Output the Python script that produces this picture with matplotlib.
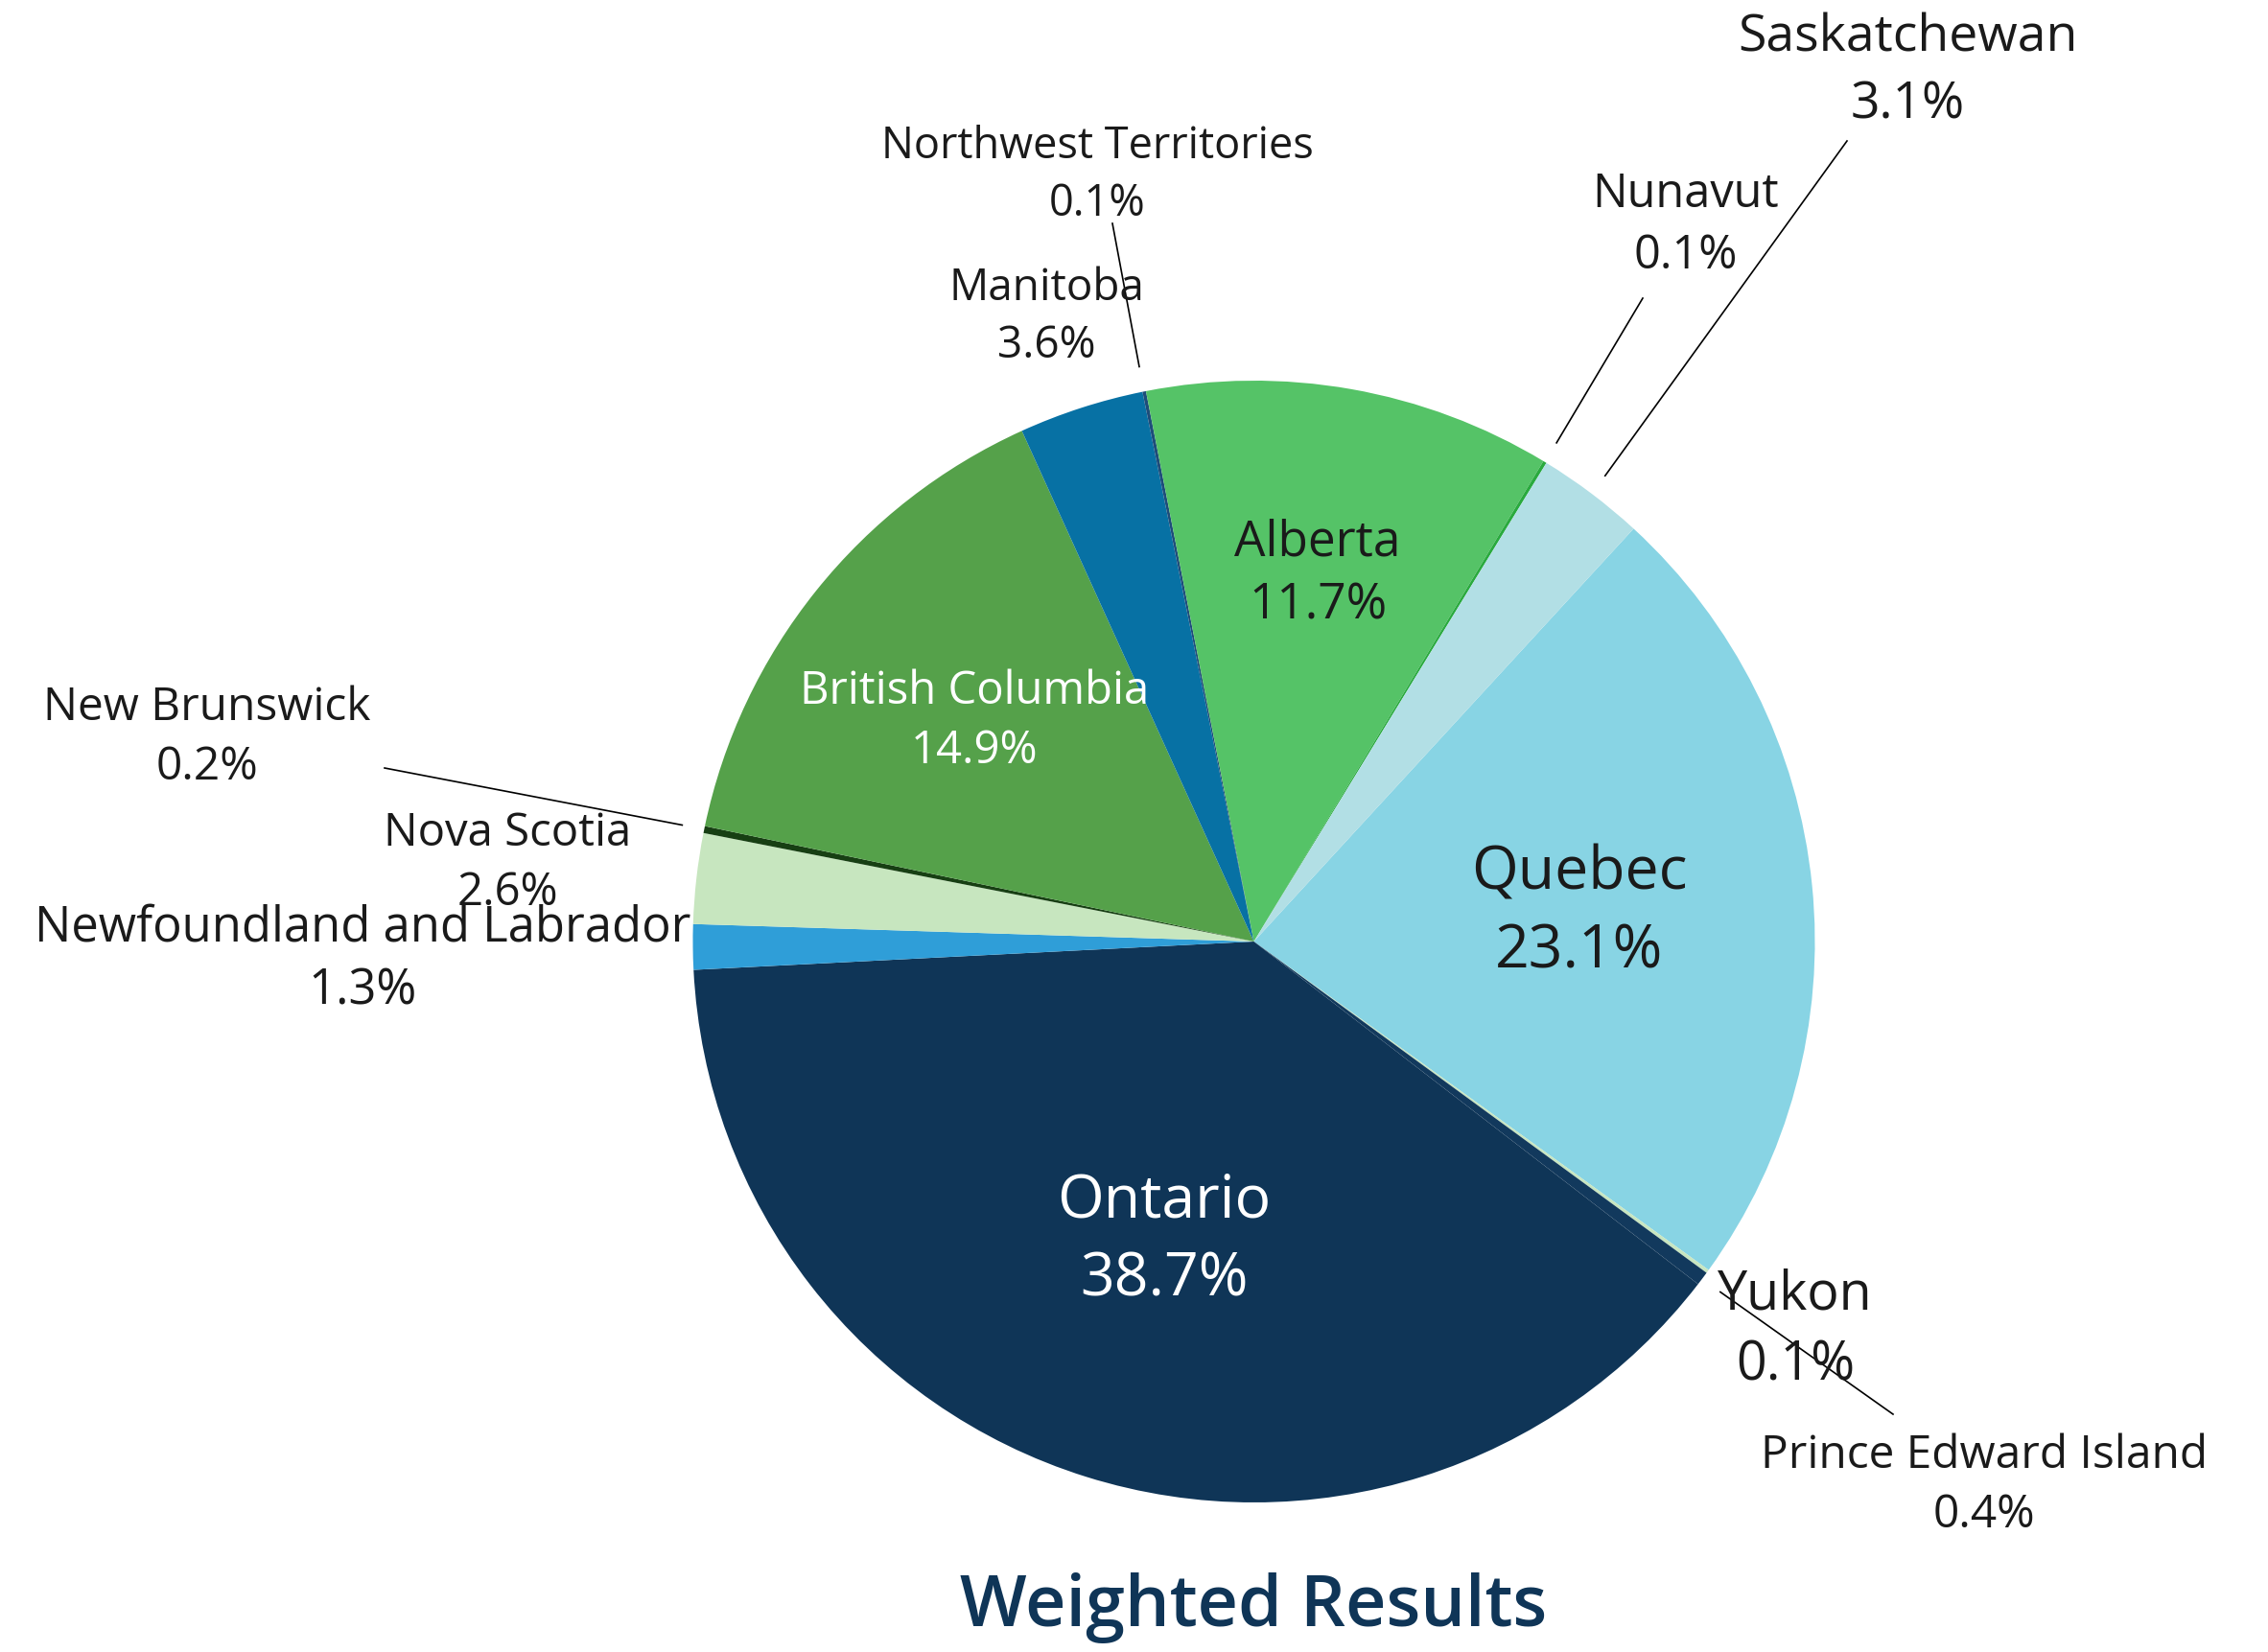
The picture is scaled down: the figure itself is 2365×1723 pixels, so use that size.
import numpy as np
import matplotlib
matplotlib.use("Agg")
import matplotlib.pyplot as plt

plt.rcParams['font.family'] = ['Open Sans', 'DejaVu Sans']

# Data (clockwise order starting from Quebec)
provinces = ["Quebec", "Yukon", "Prince Edward Island", "Ontario",
             "Newfoundland and Labrador", "Nova Scotia", "New Brunswick",
             "British Columbia", "Manitoba", "Northwest Territories",
             "Alberta", "Nunavut", "Saskatchewan"]
shares = [23.1, 0.1, 0.4, 38.7, 1.3, 2.6, 0.2, 14.9, 3.6, 0.1, 11.7, 0.1, 3.1]
colors = ["#88d4e4", "#c8e6c0", "#12395d", "#0f3557", "#2f9ed8", "#c7e6bf",
          "#173f13", "#55a14a", "#0771a4", "#1e4d7a", "#55c367", "#2aaa3e",
          "#b2dfe5"]
explode = [0, 0, 0, 0, 0.011, 0, 0, 0, 0, 0, 0, 0, 0]

# Layout (pixels in the 2365x1724 image, y measured from top)
W, H = 2365, 1724
cx, cy, R = 1307.5, 983, 585

# label: (x, y, fontsize, color)
label_pos = {
    "Quebec": (1647, 952, 45, "#1a1a1a"),
    "Yukon": (1872, 1388, 40, "#1a1a1a"),
    "Prince Edward Island": (2069, 1549, 34.5, "#1a1a1a"),
    "Ontario": (1214, 1294, 45, "white"),
    "Newfoundland and Labrador": (378, 1001, 36.5, "#1a1a1a"),
    "Nova Scotia": (529, 900, 34, "#1a1a1a"),
    "New Brunswick": (216, 769, 34.5, "#1a1a1a"),
    "British Columbia": (1016, 752, 34, "white"),
    "Manitoba": (1091, 331, 33, "#1a1a1a"),
    "Northwest Territories": (1144, 183, 32.5, "#1a1a1a"),
    "Alberta": (1374, 599, 37, "#1a1a1a"),
    "Nunavut": (1758, 235, 35, "#1a1a1a"),
    "Saskatchewan": (1989, 75, 38.5, "#1a1a1a"),
}
# leader line: (radius factor at start, end point)
leaders = {
    "Prince Edward Island": (1.04, (1974, 1476)),
    "New Brunswick": (1.04, (401, 802)),
    "Northwest Territories": (1.045, (1160, 234)),
    "Nunavut": (1.04, (1713, 312)),
    "Saskatchewan": (1.04, (1926, 148)),
}


def fy(y):
    return H - y


fig = plt.figure(figsize=(W / 100, H / 100), dpi=100)
ax = fig.add_axes([0, 0, 1, 1])

wedges, _ = ax.pie(shares, colors=colors, startangle=47.4, counterclock=False,
                   radius=R, center=(cx, fy(cy)), explode=explode,
                   wedgeprops=dict(linewidth=0), frame=True)

ax.set_xlim(0, W)
ax.set_ylim(0, H)
ax.set_aspect('equal')
ax.axis('off')

# Leader lines
for name, (rf, (ex, ey)) in leaders.items():
    w = wedges[provinces.index(name)]
    mid = np.deg2rad((w.theta1 + w.theta2) / 2)
    sx = cx + rf * R * np.cos(mid)
    sy = fy(cy) + rf * R * np.sin(mid)
    ax.plot([sx, ex], [sy, fy(ey)], color="black", lw=1.2, zorder=3)

# Labels
for name, val in zip(provinces, shares):
    x, y, fs, col = label_pos[name]
    ax.text(x, fy(y), f"{name}\n{val:.1f}%", ha="center", va="center",
            fontsize=fs, color=col, linespacing=1.4, zorder=4)

ax.text(cx, fy(1677), "Weighted Results", ha="center", va="center",
        fontsize=53, fontweight="semibold", color="#0f3557")

fig.savefig("out.png", dpi=100, facecolor="white")
